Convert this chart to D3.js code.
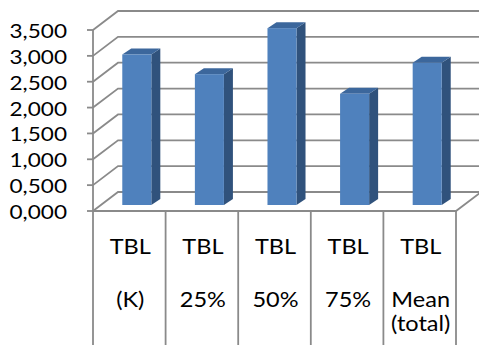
<!DOCTYPE html>
<html>
<head>
<meta charset="utf-8">
<script src="https://cdn.jsdelivr.net/npm/d3@7"></script>
<style>
  html, body { margin: 0; padding: 0; background: #fff; }
  svg { display: block; }
  text { font-family: Lato, "Open Sans", sans-serif; fill: #000; }
</style>
</head>
<body>
<svg id="chart" width="479" height="345"></svg>
<script>
// Category labels (each entry is one label, split into lines)
const categories = ["TBL (K)", "TBL 25%", "TBL 50%", "TBL 75%", "TBL Mean (total)"];
const labelLines = [["TBL", "(K)"], ["TBL", "25%"], ["TBL", "50%"], ["TBL", "75%"], ["TBL", "Mean", "(total)"]];
const values = [2.91, 2.53, 3.42, 2.15, 2.75];
const yTicks = [0, 0.5, 1, 1.5, 2, 2.5, 3, 3.5];

const W = 479, H = 345;
const svg = d3.select("#chart");

// front plane of the 3D box
const plotLeft = 93, plotRight = 456, floorY = 211, topY = 30;
const depth = { dx: 25, dy: -19 };        // wall depth
const barShift = { dx: 7.5, dy: -6 };     // bar front face inside the floor
const barDepth = { dx: 9, dy: -6 };       // bar own depth

const x = d3.scaleBand().domain(categories).range([plotLeft, plotRight]).paddingInner(0).paddingOuter(0);
const y = d3.scaleLinear().domain([0, 3.5]).range([floorY, topY]);
const barW = x.bandwidth() * 0.4;

const gridColor = "#8a8a8a";
const fmt = v => d3.format(".3f")(v).replace(".", ",");

const grid = svg.append("g").attr("fill", "none").attr("stroke", gridColor).attr("stroke-width", 1.8);

// left wall diagonals + back wall horizontal gridlines
yTicks.forEach(t => {
  const y0 = y(t);
  grid.append("path").attr("d",
    `M${plotLeft},${y0} L${plotLeft + depth.dx},${y0 + depth.dy} L${plotRight + depth.dx},${y0 + depth.dy}`);
  // tick mark
  grid.append("line").attr("x1", plotLeft - 6).attr("x2", plotLeft).attr("y1", y0).attr("y2", y0);
});

// floor front edge and right edge
grid.append("path").attr("d",
  `M${plotLeft},${y(0)} L${plotRight},${y(0)} L${plotRight + depth.dx},${y(0) + depth.dy}`);

// vertical axis line running down through the category area
grid.append("line").attr("x1", plotLeft).attr("x2", plotLeft).attr("y1", y(3.5)).attr("y2", H);

// category dividers
categories.forEach((c, i) => {
  const xe = x(c) + x.bandwidth();
  grid.append("line").attr("x1", xe).attr("x2", xe).attr("y1", y(0)).attr("y2", H);
});

// tick labels
const sx = 1.22;
svg.append("g").selectAll("text").data(yTicks).join("text")
  .attr("transform", d => `translate(67,${y(d) + 8}) scale(${sx},1)`)
  .attr("text-anchor", "end")
  .attr("font-size", 18.5)
  .text(d => fmt(d));

// bars
const bars = svg.append("g");
categories.forEach((c, i) => {
  const x0 = x(c) + (x.bandwidth() - barW) / 2 + barShift.dx;
  const x1 = x0 + barW;
  const yb = y(0) + barShift.dy;
  const yt = y(values[i]) + barShift.dy;
  const g = bars.append("g");
  // side face
  g.append("path").attr("fill", "#30527c").attr("d",
    `M${x1},${yt} L${x1 + barDepth.dx},${yt + barDepth.dy} L${x1 + barDepth.dx},${yb + barDepth.dy} L${x1},${yb} Z`);
  // top face
  g.append("path").attr("fill", "#3c679c").attr("d",
    `M${x0},${yt} L${x0 + barDepth.dx},${yt + barDepth.dy} L${x1 + barDepth.dx},${yt + barDepth.dy} L${x1},${yt} Z`);
  // front face
  g.append("rect").attr("fill", "#4f81bd").attr("x", x0).attr("y", yt).attr("width", barW).attr("height", yb - yt);
});

// category labels
const lineY = [[253.5, 306.5], [253.5, 306.5], [253.5, 306.5], [253.5, 306.5], [253.5, 306.5, 331]];
const cl = svg.append("g");
categories.forEach((c, i) => {
  const cx = x(c) + x.bandwidth() / 2;
  labelLines[i].forEach((ln, j) => {
    cl.append("text")
      .attr("transform", `translate(${cx + 1},${lineY[i][j]}) scale(1.12,1)`)
      .attr("text-anchor", "middle")
      .attr("font-size", 21)
      .text(ln);
  });
});
</script>
</body>
</html>
